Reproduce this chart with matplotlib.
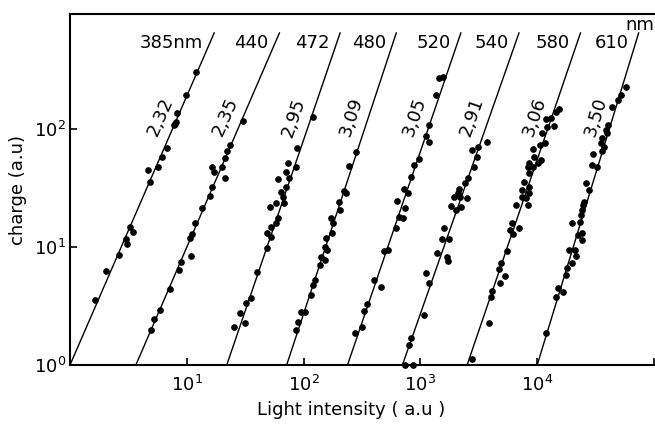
import numpy as np
import matplotlib
matplotlib.use('Agg')
import matplotlib.pyplot as plt
from matplotlib.ticker import FixedLocator, FixedFormatter, NullLocator

# ---------------- data (log10 units) ----------------
wavelength_labels = ['385nm', '440', '472', '480', '520', '540', '580', '610']
slope_labels = ['2,32', '2,35', '2,95', '3,09', '3,05', '2,91', '3,06', '3,50']
# drawn fit lines: log10(intensity) where charge = 1, and slope as drawn
fit_logI_at_unit_charge = [0.0, 0.564, 1.342, 1.855, 2.376, 2.846, 3.40, 4.0]
fit_slope_drawn = [2.28, 2.29, 2.90, 3.00, 2.90, 2.82, 2.90, 3.24]
fit_logQ_max = 2.82

s385_logI = [1.083, 0.991, 0.917, 0.906, 0.900, 0.889, 0.829, 0.789, 0.750, 0.667, 0.684,
             0.515, 0.538, 0.476, 0.485, 0.421, 0.308, 0.214]
s385_logQ = [2.486, 2.288, 2.138, 2.062, 2.045, 2.034, 1.836, 1.763, 1.678, 1.653, 1.553,
             1.167, 1.130, 1.065, 1.025, 0.932, 0.799, 0.551]

s440_logI = [1.481, 1.374, 1.348, 1.325, 1.305, 1.214, 1.233, 1.325, 1.216, 1.197, 1.131,
             1.068, 1.045, 1.026, 1.034, 0.953, 0.932, 0.855, 0.769, 0.721, 0.697]
s440_logQ = [2.068, 1.864, 1.816, 1.752, 1.681, 1.681, 1.638, 1.582, 1.511, 1.435, 1.333,
             1.201, 1.110, 1.076, 0.920, 0.873, 0.805, 0.641, 0.466, 0.387, 0.297]

s472_logI = [2.079, 1.946, 1.866, 1.938, 1.852, 1.784, 1.872, 1.846, 1.809, 1.823, 1.767,
             1.829, 1.709, 1.781, 1.767, 1.724, 1.686, 1.724, 1.686, 1.604, 1.553, 1.510,
             1.453, 1.496, 1.404]
s472_logQ = [2.102, 1.836, 1.709, 1.675, 1.638, 1.574, 1.582, 1.506, 1.469, 1.426, 1.375,
             1.370, 1.342, 1.243, 1.201, 1.172, 1.116, 1.087, 0.989, 0.786, 0.565, 0.523,
             0.438, 0.353, 0.324]

s480_logI = [2.450, 2.387, 2.350, 2.365, 2.299, 2.314, 2.237, 2.250, 2.245, 2.194, 2.179,
             2.199, 2.151, 2.179, 2.137, 2.094, 2.079, 2.060, 2.009, 1.980, 1.951, 1.938]
s480_logQ = [1.803, 1.689, 1.475, 1.455, 1.384, 1.314, 1.243, 1.201, 1.116, 1.074, 1.003,
             0.975, 0.918, 0.890, 0.847, 0.720, 0.678, 0.593, 0.452, 0.452, 0.367, 0.297]

s520_logI = [3.191, 3.156, 3.134, 3.071, 3.049, 3.071, 2.985, 2.943, 2.921, 2.863, 2.891,
             2.797, 2.872, 2.815, 2.849, 2.792, 2.721, 2.692, 2.607, 2.664, 2.541, 2.521,
             2.502, 2.444]
s520_logQ = [2.443, 2.430, 2.288, 2.034, 1.941, 1.892, 1.743, 1.695, 1.596, 1.489, 1.455,
             1.392, 1.328, 1.257, 1.243, 1.158, 0.975, 0.969, 0.720, 0.658, 0.517, 0.458,
             0.319, 0.274]

s540_logI = [3.568, 3.490, 3.442, 3.481, 3.462, 3.404, 3.385, 3.333, 3.319, 3.339, 3.291,
             3.396, 3.262, 3.305, 3.348, 3.205, 3.185, 3.242, 3.143, 3.225, 3.233, 3.049,
             3.077, 3.034, 2.921, 2.900, 2.868, 2.940]
s540_logQ = [1.890, 1.850, 1.822, 1.765, 1.681, 1.587, 1.540, 1.489, 1.455, 1.426, 1.426,
             1.413, 1.347, 1.314, 1.342, 1.158, 1.065, 1.065, 0.947, 0.913, 0.881, 0.782,
             0.692, 0.424, 0.226, 0.169, 0.0, 0.0]

s580_logI = [4.188, 4.160, 4.117, 4.074, 4.145, 4.088, 4.045, 4.068, 4.023, 3.960, 3.974,
             4.032, 4.011, 3.932, 3.917, 3.960, 3.932, 3.889, 3.932, 3.869, 3.926, 3.869,
             3.903, 3.818, 3.917, 3.784, 3.767, 3.840, 3.789, 3.741, 3.690, 3.669, 3.726,
             3.681, 3.613, 3.604, 3.590, 3.442]
s580_logQ = [2.167, 2.147, 2.091, 2.082, 2.025, 2.020, 1.964, 1.879, 1.864, 1.828, 1.765,
             1.737, 1.709, 1.714, 1.681, 1.675, 1.625, 1.553, 1.511, 1.483, 1.460, 1.426,
             1.413, 1.356, 1.356, 1.201, 1.144, 1.158, 1.110, 0.966, 0.862, 0.811, 0.754,
             0.692, 0.630, 0.579, 0.353, 0.048]

s610_logI = [4.758, 4.715, 4.695, 4.644, 4.609, 4.587, 4.601, 4.558, 4.544, 4.573, 4.558,
             4.481, 4.468, 4.515, 4.421, 4.444, 4.402, 4.393, 4.382, 4.373, 4.365, 4.297,
             4.387, 4.353, 4.382, 4.325, 4.268, 4.331, 4.302, 4.259, 4.245, 4.222, 4.174,
             4.165, 4.074]
s610_logQ = [2.353, 2.288, 2.246, 2.184, 2.034, 1.992, 1.964, 1.921, 1.879, 1.850, 1.816,
             1.788, 1.695, 1.681, 1.545, 1.483, 1.384, 1.356, 1.314, 1.271, 1.214, 1.201,
             1.116, 1.102, 1.059, 0.975, 0.975, 0.924, 0.862, 0.819, 0.763, 0.621, 0.650,
             0.574, 0.275]

x_tick_values = [1e1, 1e2, 1e3, 1e4, 1e5]
x_tick_labels = ['$10^{1}$', '$10^{2}$', '$10^{3}$', '$10^{4}$', '']
y_tick_values = [1e0, 1e1, 1e2]
y_tick_labels = ['$10^{0}$', '$10^{1}$', '$10^{2}$']

series = [
    (s385_logI, s385_logQ), (s440_logI, s440_logQ), (s472_logI, s472_logQ),
    (s480_logI, s480_logQ), (s520_logI, s520_logQ), (s540_logI, s540_logQ),
    (s580_logI, s580_logQ), (s610_logI, s610_logQ),
]

# ---------------- figure ----------------
plt.rcParams['font.family'] = ['DejaVu Sans']
plt.rcParams['mathtext.fontset'] = 'dejavusans'

fig = plt.figure(figsize=(6.55, 4.24), dpi=100)
ax = fig.add_axes([70 / 655, 59 / 424, 584 / 655, 351 / 424])
ax.set_xscale('log')
ax.set_yscale('log')
ax.set_xlim(1, 1e5)
ax.set_ylim(1, 10 ** 2.975)

FS = 13
for k, (lI, lQ) in enumerate(series):
    I0 = fit_logI_at_unit_charge[k]
    s = fit_slope_drawn[k]
    lq = np.array([0.0, fit_logQ_max])
    li = I0 + lq / s
    ax.plot(10 ** li, 10 ** lq, color='black', lw=1.0, solid_capstyle='butt')
    ax.plot(10 ** np.array(lI), 10 ** np.array(lQ), 'o', ms=3.8, color='black',
            mec='black', clip_on=False, zorder=3)
    # wavelength label at top of line
    lq_lab = 2.73
    ax.annotate(wavelength_labels[k], (10 ** (I0 + lq_lab / s), 10 ** lq_lab),
                xytext=(-5, 0), textcoords='offset points', ha='right', va='center',
                fontsize=FS)
    # slope label rotated along line
    lq_s = 2.1
    ang = np.degrees(np.arctan(s))
    ax.annotate(slope_labels[k], (10 ** (I0 + lq_s / s), 10 ** lq_s),
                xytext=(-12.5, 0), textcoords='offset points', ha='center', va='center',
                rotation=ang, rotation_mode='anchor', fontsize=FS)

ax.text(1.0, 0.97, 'nm', transform=ax.transAxes, ha='right', va='center', fontsize=FS)

ax.xaxis.set_major_locator(FixedLocator(x_tick_values))
ax.xaxis.set_major_formatter(FixedFormatter(x_tick_labels))
ax.xaxis.set_minor_locator(NullLocator())
ax.yaxis.set_major_locator(FixedLocator(y_tick_values))
ax.yaxis.set_major_formatter(FixedFormatter(y_tick_labels))
ax.yaxis.set_minor_locator(NullLocator())
ax.tick_params(axis='both', direction='in', length=5, width=1.2, labelsize=FS, colors='black')
ax.tick_params(axis='x', pad=7)
ax.tick_params(axis='y', pad=3)

ax.spines['right'].set_visible(False)
for sp in ['left', 'top', 'bottom']:
    ax.spines[sp].set_linewidth(1.5)

fig.text(18 / 655, 1 - 190 / 424, 'charge (a.u)', rotation=90, ha='center', va='center',
         fontsize=FS)
fig.text(351 / 655, 1 - 410 / 424, 'Light intensity ( a.u )', ha='center', va='center',
         fontsize=FS)

fig.savefig('out.png', dpi=100)
